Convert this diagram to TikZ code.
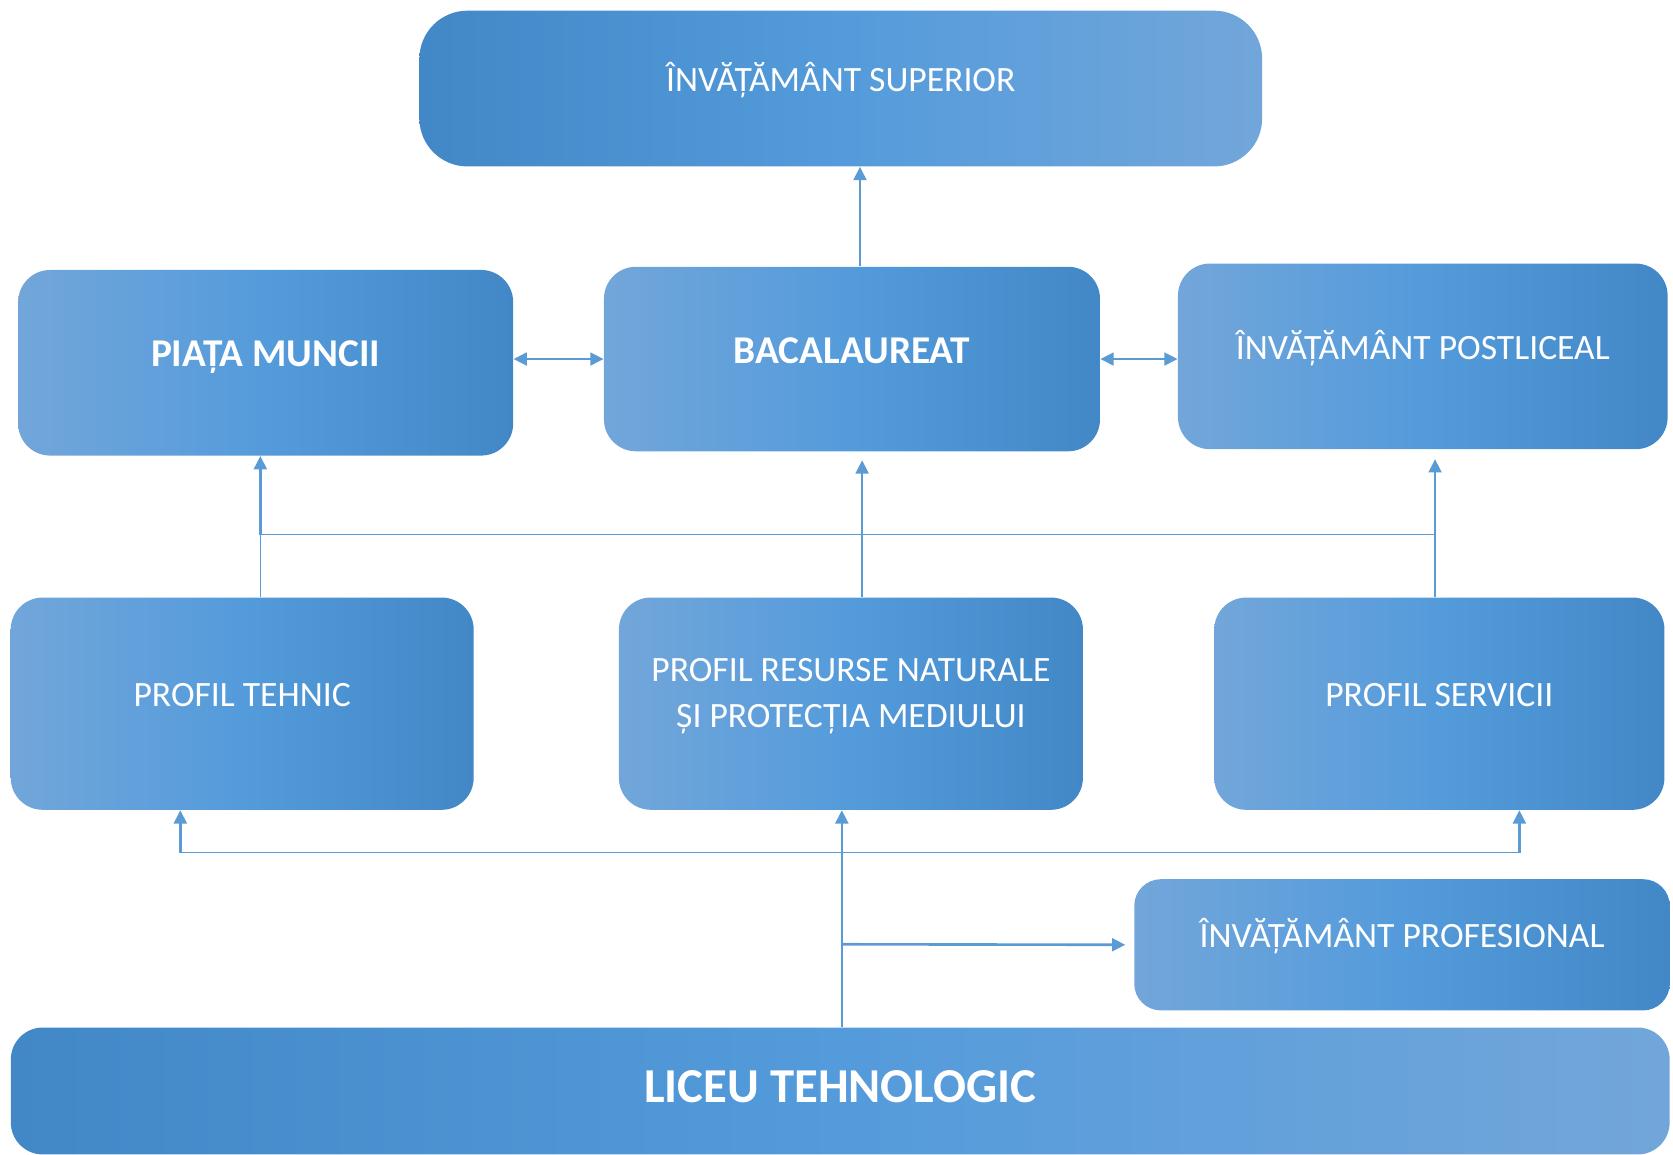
\documentclass[tikz,border=0pt]{standalone}
\usepackage{fontspec}
\setmainfont{Carlito}
\usetikzlibrary{arrows.meta}
\definecolor{bxdark}{RGB}{66,136,199}
\definecolor{bxmid}{RGB}{84,155,219}
\definecolor{bxlight}{RGB}{114,166,218}
\definecolor{lnblue}{RGB}{91,155,213}
\tikzset{
  blk/.style={rounded corners=0.6cm, inner sep=0pt, text=white,
    left color=bxlight, right color=bxdark, middle color=bxmid,
    font=\fontsize{19}{24.5}\selectfont, text height=0.45cm, text depth=0.35cm},
  blkrev/.style={blk, left color=bxdark, right color=bxlight, middle color=bxmid},
  big/.style={font=\bfseries\fontsize{21}{25}\selectfont, text depth=0.3cm},
  ln/.style={draw=lnblue, line width=0.8pt},
  arr/.style={ln, line width=1.4pt, -{Triangle[length=0.25cm,width=0.24cm]}},
  both/.style={arr, {Triangle[length=0.25cm,width=0.24cm]}-{Triangle[length=0.25cm,width=0.24cm]}}
}
\begin{document}
\begin{tikzpicture}[x=0.02cm, y=-0.02cm]
      \useasboundingbox (0,0) rectangle (1568,1082);
      % boxes
      \node[blkrev, rounded corners=0.9cm, minimum width=15.8cm, minimum height=2.92cm] (sup) at (788,83) {ÎNVĂȚĂMÂNT SUPERIOR};
      \node[blk, big, minimum width=9.28cm, minimum height=3.48cm] (piata) at (249,340) {PIAȚA MUNCII};
      \node[blk, big, minimum width=9.3cm, minimum height=3.46cm] (bac) at (798.5,336.5) {BACALAUREAT};
      \node[blk, minimum width=9.18cm, minimum height=3.48cm] (post) at (1333.5,334) {ÎNVĂȚĂMÂNT POSTLICEAL};
      \node[blk, minimum width=8.68cm, minimum height=3.98cm] (tehnic) at (227,659.5) {PROFIL TEHNIC};
      \node[blk, align=center, text height=, text depth=0.4cm, minimum width=8.7cm, minimum height=3.98cm] (resurse) at (797.5,659.5)
            {PROFIL RESURSE NATURALE\\ȘI PROTECȚIA MEDIULUI};
      \node[blk, minimum width=8.44cm, minimum height=3.98cm] (servicii) at (1349,659.5) {PROFIL SERVICII};
      \node[blk, rounded corners=0.5cm, minimum width=10.04cm, minimum height=2.46cm] (prof) at (1314,885.5) {ÎNVĂȚĂMÂNT PROFESIONAL};
      \node[blkrev, font=\bfseries\fontsize{26}{30}\selectfont, text height=0.6cm, text depth=0.18cm,
            minimum width=31.1cm, minimum height=2.38cm] (liceu) at (787.5,1022.5) {LICEU TEHNOLOGIC};
      % junctions
      \coordinate (ja) at (244,501);
      \coordinate (jm) at (808,501);
      \coordinate (jb) at (1345,501);
      \coordinate (ka) at (169,799);
      \coordinate (km) at (789,799);
      \coordinate (kb) at (1424,799);
      \coordinate (kp) at (789,885);
      % top links
      \draw[arr] ([xshift=0.15cm]bac.north) -- ([xshift=0.15cm]bac.north |- sup.south);
      \draw[both] (piata.east |- bac.west) -- (bac.west);
      \draw[both] (bac.east) -- (post.west |- bac.east);
      % upper bus
      \draw[ln] (ja |- tehnic.north) -- (ja) -- (jb) -- (jb |- servicii.north);
      \draw[ln] (jm |- resurse.north) -- (jm);
      \draw[arr] (ja) -- (ja |- piata.south);
      \draw[arr, shorten >=0.16cm] (jm) -- (jm |- bac.south);
      \draw[arr, shorten >=0.18cm] (jb) -- (jb |- post.south);
      % lower bus
      \draw[ln] (km |- liceu.north) -- (km);
      \draw[ln] (ka) -- (kb);
      \draw[arr] (ka) -- (ka |- tehnic.south);
      \draw[arr] (km) -- (km |- resurse.south);
      \draw[arr] (kb) -- (kb |- servicii.south);
      \draw[arr, shorten >=0.16cm] (kp) -- (prof.west);
\end{tikzpicture}
\end{document}
